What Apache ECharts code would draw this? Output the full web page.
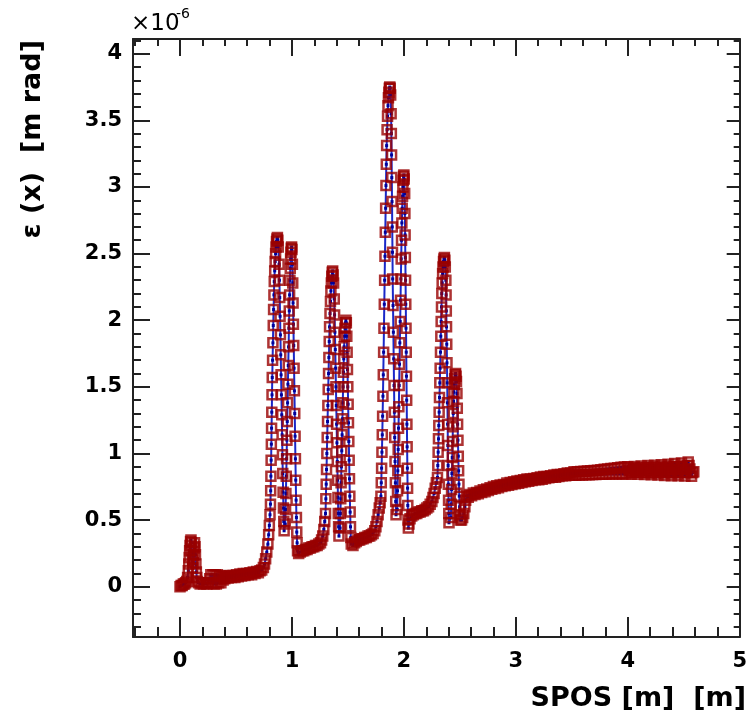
<!DOCTYPE html>
<html><head><meta charset="utf-8">
<script src="https://cdn.jsdelivr.net/npm/echarts@6/dist/echarts.min.js"></script>
<style>html,body{margin:0;padding:0;background:#fff}#c{width:750px;height:715px}</style>
</head><body><div id="c"></div>
<script>
// SPOS [m], emittance in units of 1e-6 m rad
const segStart = [[0.000,0.00],[0.010,0.01],[0.020,0.01],[0.030,0.02],[0.040,0.02],[0.050,0.03],[0.060,0.04],[0.068,0.07],[0.074,0.12],[0.078,0.17],[0.082,0.22],[0.086,0.27],[0.090,0.31],[0.094,0.34],[0.098,0.35],[0.102,0.33],[0.106,0.27],[0.110,0.20],[0.114,0.14],[0.118,0.18],[0.122,0.24],[0.126,0.29],[0.130,0.33],[0.134,0.30],[0.138,0.24],[0.142,0.17],[0.146,0.11],[0.150,0.07],[0.156,0.04],[0.165,0.03],[0.180,0.02],[0.195,0.03],[0.210,0.02],[0.225,0.03],[0.240,0.02],[0.255,0.03]];
const segStep = [[0.265,0.06],[0.275,0.09],[0.285,0.03],[0.295,0.09],[0.305,0.02],[0.315,0.09],[0.325,0.02],[0.335,0.09],[0.345,0.03],[0.355,0.08],[0.365,0.03],[0.375,0.08],[0.385,0.05],[0.395,0.07]];
const segRise1 = [[0.400,0.06],[0.415,0.08],[0.430,0.065],[0.445,0.085],[0.460,0.07],[0.475,0.085],[0.490,0.07],[0.505,0.09],[0.520,0.075],[0.535,0.095],[0.550,0.08],[0.565,0.10],[0.580,0.085],[0.595,0.10],[0.610,0.09],[0.625,0.105],[0.640,0.09],[0.655,0.11],[0.670,0.10],[0.685,0.115],[0.700,0.105],[0.715,0.12],[0.730,0.125],[0.745,0.145],[0.755,0.17],[0.765,0.21],[0.775,0.26],[0.785,0.32],[0.792,0.39],[0.798,0.46],[0.804,0.54]];
const group1 = [[0.808,0.62],[0.810,0.72],[0.812,0.83],[0.814,0.95],[0.816,1.07],[0.818,1.19],[0.820,1.31],[0.822,1.44],[0.824,1.57],[0.827,1.70],[0.830,1.83],[0.833,1.96],[0.836,2.08],[0.839,2.19],[0.842,2.29],[0.846,2.37],[0.850,2.44],[0.854,2.50],[0.858,2.55],[0.862,2.59],[0.866,2.61],[0.870,2.62],[0.874,2.60],[0.878,2.55],
  [0.885,2.42],[0.888,2.30],[0.891,2.17],[0.894,2.03],[0.897,1.89],[0.900,1.74],[0.903,1.59],[0.906,1.44],[0.909,1.29],[0.912,1.14],[0.915,0.99],[0.918,0.85],[0.921,0.71],[0.924,0.59],[0.927,0.49],[0.930,0.42],
  [0.940,0.47],[0.943,0.58],[0.946,0.70],[0.949,0.83],[0.952,0.96],[0.955,1.10],[0.958,1.24],[0.961,1.38],[0.964,1.52],[0.967,1.66],[0.970,1.80],[0.973,1.94],[0.976,2.07],[0.979,2.19],[0.982,2.30],[0.985,2.39],[0.988,2.46],[0.991,2.51],[0.994,2.54],[0.997,2.55],[1.000,2.53],
  [1.004,2.42],[1.007,2.28],[1.010,2.13],[1.013,1.97],[1.016,1.81],[1.019,1.64],[1.022,1.47],[1.025,1.30],[1.028,1.13],[1.031,0.96],[1.034,0.80],[1.037,0.65],[1.040,0.52],[1.043,0.41],[1.046,0.33]];
const base1 = [[1.05,0.27],[1.06,0.25],[1.075,0.26],[1.09,0.27],[1.105,0.27],[1.12,0.28],[1.135,0.28],[1.15,0.29],[1.165,0.29],[1.18,0.30],[1.195,0.30],[1.21,0.31],[1.225,0.31],[1.24,0.32],[1.255,0.33],[1.265,0.35],[1.275,0.38],[1.285,0.43],[1.293,0.49]];
const group2 = [[1.300,0.55],[1.303,0.66],[1.306,0.77],[1.309,0.88],[1.312,1.00],[1.315,1.12],[1.318,1.24],[1.321,1.36],[1.324,1.48],[1.327,1.60],[1.330,1.72],[1.333,1.84],[1.336,1.95],[1.340,2.05],[1.344,2.14],[1.348,2.22],[1.352,2.28],[1.356,2.33],[1.360,2.36],[1.364,2.37],[1.368,2.34],[1.372,2.28],
  [1.378,2.16],[1.381,2.04],[1.384,1.91],[1.387,1.78],[1.390,1.64],[1.393,1.50],[1.396,1.36],[1.399,1.22],[1.402,1.08],[1.405,0.94],[1.408,0.80],[1.411,0.67],[1.414,0.55],[1.417,0.45],[1.420,0.38],
  [1.430,0.44],[1.433,0.55],[1.436,0.66],[1.439,0.78],[1.442,0.90],[1.445,1.02],[1.448,1.14],[1.451,1.26],[1.454,1.38],[1.457,1.50],[1.460,1.61],[1.463,1.71],[1.466,1.80],[1.470,1.88],[1.474,1.94],[1.478,1.98],[1.482,2.00],[1.486,1.98],
  [1.490,1.88],[1.493,1.76],[1.496,1.63],[1.499,1.50],[1.502,1.37],[1.505,1.23],[1.508,1.09],[1.511,0.95],[1.514,0.81],[1.517,0.68],[1.520,0.56],[1.523,0.45],[1.526,0.37]];
const base2 = [[1.53,0.32],[1.545,0.31],[1.56,0.33],[1.575,0.34],[1.59,0.35],[1.605,0.35],[1.62,0.36],[1.635,0.36],[1.65,0.37],[1.665,0.37],[1.68,0.38],[1.695,0.38],[1.71,0.39],[1.725,0.40],[1.74,0.42],[1.75,0.45],[1.76,0.49],[1.77,0.54],[1.78,0.59],[1.788,0.63]];
const group3 = [[1.795,0.68],[1.798,0.78],[1.801,0.89],[1.804,1.01],[1.807,1.14],[1.810,1.28],[1.813,1.43],[1.816,1.59],[1.819,1.76],[1.822,1.94],[1.825,2.12],[1.828,2.30],[1.831,2.48],[1.834,2.66],[1.837,2.84],[1.840,3.01],[1.843,3.17],[1.846,3.31],[1.850,3.43],[1.854,3.53],[1.858,3.61],[1.862,3.67],[1.866,3.71],[1.870,3.74],[1.874,3.75],[1.878,3.74],[1.882,3.69],
  [1.886,3.55],[1.888,3.40],[1.890,3.24],[1.892,3.07],[1.894,2.89],[1.896,2.70],[1.898,2.51],[1.900,2.31],[1.903,2.11],[1.906,1.91],[1.909,1.71],[1.912,1.51],[1.915,1.31],[1.918,1.12],[1.921,0.94],[1.924,0.78],[1.927,0.64],[1.930,0.54],
  [1.940,0.58],[1.943,0.72],[1.946,0.87],[1.949,1.03],[1.952,1.19],[1.955,1.35],[1.958,1.51],[1.961,1.67],[1.964,1.83],[1.967,1.99],[1.970,2.15],[1.973,2.31],[1.976,2.46],[1.979,2.60],[1.982,2.73],[1.985,2.84],[1.988,2.93],[1.991,3.00],[1.994,3.05],[1.997,3.08],[2.000,3.09],[2.003,3.06],
  [2.007,2.95],[2.009,2.80],[2.011,2.64],[2.013,2.47],[2.015,2.30],[2.017,2.12],[2.019,1.94],[2.021,1.76],[2.023,1.58],[2.025,1.40],[2.027,1.22],[2.029,1.05],[2.031,0.89],[2.033,0.74],[2.035,0.61],[2.037,0.50],[2.040,0.44]];
const base3 = [[2.045,0.47],[2.055,0.51],[2.07,0.53],[2.085,0.54],[2.10,0.55],[2.115,0.55],[2.13,0.56],[2.145,0.56],[2.16,0.57],[2.175,0.57],[2.19,0.58],[2.205,0.59],[2.22,0.60],[2.235,0.62],[2.25,0.64],[2.26,0.67],[2.27,0.70],[2.28,0.74],[2.29,0.78]];
const group4 = [[2.300,0.82],[2.303,0.91],[2.306,1.01],[2.309,1.11],[2.312,1.21],[2.315,1.31],[2.318,1.42],[2.321,1.53],[2.324,1.64],[2.327,1.76],[2.330,1.88],[2.333,1.99],[2.336,2.10],[2.339,2.20],[2.342,2.28],[2.346,2.35],[2.350,2.40],[2.354,2.44],[2.358,2.46],[2.362,2.47],[2.366,2.45],[2.370,2.40],
  [2.375,2.30],[2.377,2.19],[2.379,2.07],[2.381,1.95],[2.383,1.82],[2.385,1.68],[2.387,1.53],[2.389,1.38],[2.391,1.22],[2.393,1.06],[2.395,0.91],[2.397,0.77],[2.399,0.65],[2.401,0.55],[2.403,0.48],
  [2.420,0.52],[2.423,0.62],[2.426,0.73],[2.429,0.85],[2.432,0.97],[2.435,1.09],[2.438,1.20],[2.441,1.30],[2.444,1.39],[2.447,1.46],[2.450,1.52],[2.454,1.56],[2.458,1.59],[2.462,1.60],[2.466,1.58],[2.470,1.54],
  [2.474,1.45],[2.477,1.34],[2.480,1.22],[2.483,1.10],[2.486,0.98],[2.489,0.87],[2.492,0.77],[2.495,0.68],[2.498,0.60],[2.501,0.54],[2.504,0.50]];
const tailA = [[2.515,0.50],[2.525,0.52],[2.535,0.55],[2.545,0.60],[2.552,0.65],
  [2.560,0.683],[2.575,0.672],[2.590,0.693],[2.605,0.682],[2.620,0.703],[2.635,0.692],[2.650,0.708],[2.665,0.697],[2.680,0.718],[2.695,0.707],[2.710,0.728],[2.725,0.712],[2.740,0.733],[2.755,0.722],[2.770,0.743],[2.785,0.732],[2.800,0.753],[2.815,0.737],[2.830,0.758],[2.845,0.742],[2.860,0.763],[2.875,0.752],[2.890,0.768],[2.905,0.757],[2.920,0.778],[2.935,0.762],[2.950,0.783],[2.965,0.767],[2.980,0.788],[2.995,0.772],[3.010,0.793],[3.025,0.777],[3.040,0.798],[3.055,0.782],[3.070,0.803],[3.085,0.787],[3.100,0.808],[3.115,0.792],[3.130,0.808],[3.145,0.797],[3.160,0.813],[3.175,0.802],[3.190,0.818],[3.205,0.802],[3.220,0.823],[3.235,0.807],[3.250,0.828],[3.265,0.812],[3.280,0.828],[3.295,0.817],[3.310,0.833],[3.325,0.822],[3.340,0.838],[3.355,0.822],[3.370,0.843],[3.385,0.827],[3.400,0.843],[3.415,0.832],[3.430,0.848],[3.445,0.832],[3.460,0.853],[3.475,0.837],[3.490,0.853]];
const tailB = [[3.505,0.836],[3.520,0.862],[3.535,0.837],[3.550,0.863],[3.565,0.838],[3.580,0.865],[3.595,0.839],[3.610,0.867],[3.625,0.840],[3.640,0.869],[3.655,0.841],[3.670,0.871],[3.685,0.842],[3.700,0.873],[3.715,0.843],[3.730,0.875],[3.745,0.844],[3.760,0.878],[3.775,0.845],[3.790,0.881],[3.805,0.845],[3.820,0.884],[3.835,0.846],[3.850,0.887],[3.865,0.846],[3.880,0.890],[3.895,0.846],[3.910,0.893],[3.925,0.846],[3.940,0.896],[3.955,0.846],[3.970,0.899],[3.985,0.846]];
const tailC = [[4.000,0.900],[4.008,0.887],[4.015,0.873],[4.022,0.859],[4.030,0.845],[4.038,0.860],[4.045,0.874],[4.052,0.889],[4.060,0.903],[4.068,0.889],[4.075,0.874],[4.082,0.859],[4.090,0.844],[4.098,0.860],[4.105,0.875],[4.112,0.891],[4.120,0.906],[4.128,0.891],[4.135,0.875],[4.142,0.859],[4.150,0.843],[4.158,0.860],[4.165,0.876],[4.172,0.893],[4.180,0.909],[4.188,0.893],[4.195,0.876],[4.202,0.858],[4.210,0.841],[4.218,0.859],[4.225,0.877],[4.232,0.895],[4.240,0.912],[4.248,0.894],[4.255,0.876],[4.262,0.857],[4.270,0.838],[4.278,0.858],[4.285,0.877],[4.292,0.897],[4.300,0.916],[4.308,0.896],[4.315,0.876],[4.322,0.855],[4.330,0.835],[4.338,0.857],[4.345,0.878],[4.352,0.899],[4.360,0.920],[4.368,0.898],[4.375,0.877],[4.382,0.855],[4.390,0.833],[4.398,0.856],[4.405,0.879],[4.412,0.902],[4.420,0.924],[4.428,0.901],[4.435,0.878],[4.442,0.855],[4.450,0.832],[4.458,0.857],[4.465,0.881],[4.472,0.905],[4.480,0.929],[4.488,0.905],[4.495,0.880],[4.502,0.855],[4.510,0.831],[4.518,0.858],[4.525,0.884],[4.532,0.910],[4.540,0.936],[4.548,0.910],[4.555,0.883],[4.562,0.856],[4.570,0.830],[4.580,0.858],[4.590,0.862]];

const xMajorTicks = [0,1,2,3,4,5];
const xMinorTicks = [-0.4,-0.2,0.2,0.4,0.6,0.8,1.2,1.4,1.6,1.8,2.2,2.4,2.6,2.8,3.2,3.4,3.6,3.8,4.2,4.4,4.6,4.8];
const yMajorTicks = [0,0.5,1,1.5,2,2.5,3,3.5,4];
const yMinorTicks = [-0.3,-0.2,-0.1,0.1,0.2,0.3,0.4,0.6,0.7,0.8,0.9,1.1,1.2,1.3,1.4,1.6,1.7,1.8,1.9,2.1,2.2,2.3,2.4,2.6,2.7,2.8,2.9,3.1,3.2,3.3,3.4,3.6,3.7,3.8,3.9,4.1];
const xTitle = 'SPOS [m]  [m]';
const yTitle = 'ε (x)  [m rad]';

const points = [].concat(segStart, segStep, segRise1, group1, base1, group2, base2, group3, base3, group4, tailA, tailB, tailC);

const X_MIN = -0.42, X_MAX = 5, Y_MIN = -0.377, Y_MAX = 4.11;
const AX = '#222';
const FONT = 'DejaVu Sans';

function xAx(pos, ticks, len, showLabel, showLine) {
  return {
    type: 'value', position: pos, min: X_MIN, max: X_MAX,
    axisLine: {show: showLine, onZero: false, lineStyle: {color: AX, width: 2}},
    axisTick: {show: true, inside: true, length: len, customValues: ticks, lineStyle: {color: AX, width: 2}},
    axisLabel: {show: showLabel, customValues: ticks, margin: 14, color: '#000',
      fontFamily: FONT, fontWeight: 'bold', fontSize: 21, formatter: v => String(+(+v).toFixed(1))},
    splitLine: {show: false}, minorTick: {show: false}
  };
}
function yAx(pos, ticks, len, showLabel, showLine) {
  return {
    type: 'value', position: pos, min: Y_MIN, max: Y_MAX,
    axisLine: {show: showLine, onZero: false, lineStyle: {color: AX, width: 2}},
    axisTick: {show: true, inside: true, length: len, customValues: ticks, lineStyle: {color: AX, width: 2}},
    axisLabel: {show: showLabel, customValues: ticks, margin: 11, color: '#000',
      fontFamily: FONT, fontWeight: 'bold', fontSize: 21, formatter: v => String(+(+v).toFixed(1))},
    splitLine: {show: false}, minorTick: {show: false}
  };
}

const chart = echarts.init(document.getElementById('c'), null, {renderer: 'canvas'});
chart.setOption({
  animation: false,
  backgroundColor: '#fff',
  grid: {left: 133, right: 3, top: 39, bottom: 78, containLabel: false},
  xAxis: [
    xAx('bottom', xMajorTicks, 20, true, true),
    xAx('bottom', xMinorTicks, 10, false, false),
    xAx('top', xMajorTicks, 17, false, true),
    xAx('top', xMinorTicks, 7, false, false)
  ],
  yAxis: [
    yAx('left', yMajorTicks, 17, true, true),
    yAx('left', yMinorTicks, 8, false, false),
    yAx('right', yMajorTicks, 13, false, true),
    yAx('right', yMinorTicks, 6, false, false)
  ],
  graphic: [
    {type: 'text', x: 33, y: 40, rotation: Math.PI / 2,
      style: {text: yTitle, fill: '#000', fontFamily: FONT, fontWeight: 'bold', fontSize: 27, align: 'right', verticalAlign: 'middle'}},
    {type: 'text', x: 746, y: 699,
      style: {text: xTitle, fill: '#000', fontFamily: FONT, fontWeight: 'bold', fontSize: 27, align: 'right', verticalAlign: 'middle'}},
    {type: 'text', x: 131, y: 24,
      style: {text: '×10', fill: '#000', fontFamily: FONT, fontSize: 23, align: 'left', verticalAlign: 'middle'}},
    {type: 'text', x: 176, y: 14,
      style: {text: '-6', fill: '#000', fontFamily: FONT, fontSize: 14, align: 'left', verticalAlign: 'middle'}}
  ],
  series: [
    {type: 'line', xAxisIndex: 0, yAxisIndex: 0, data: points, z: 2,
      lineStyle: {color: '#1a28c8', width: 2}, symbol: 'rect', symbolSize: 3,
      itemStyle: {color: '#000099'}, showSymbol: true, silent: true},
    {type: 'scatter', xAxisIndex: 0, yAxisIndex: 0, data: points, z: 3,
      symbol: 'rect', symbolSize: 9,
      itemStyle: {color: 'rgba(0,0,0,0)', borderColor: '#990000', borderWidth: 2.5}, silent: true}
  ]
});
</script></body></html>
